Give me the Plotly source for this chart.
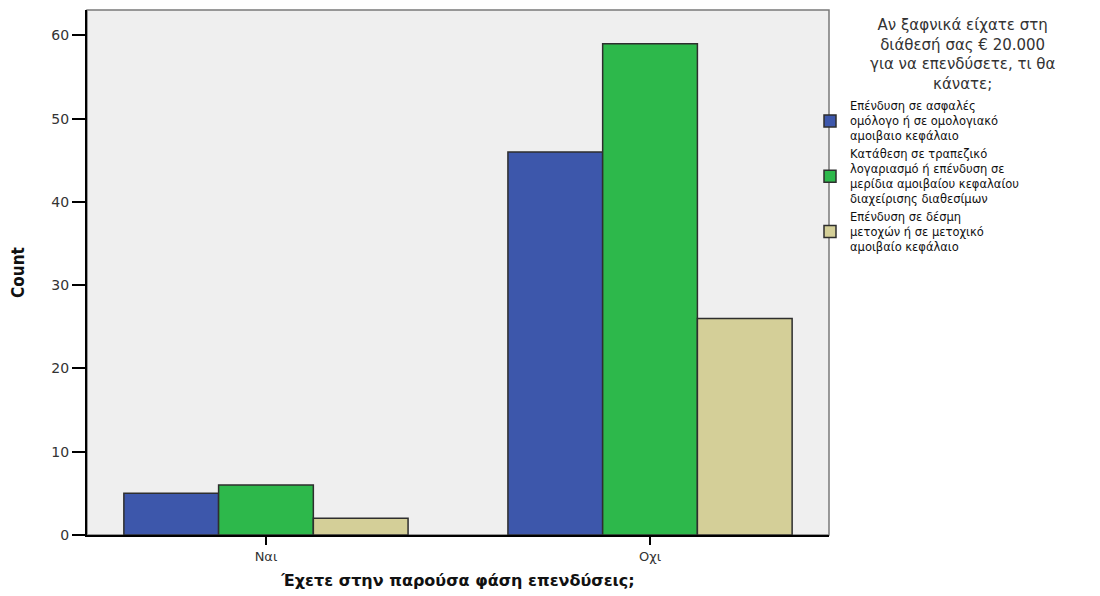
import plotly.graph_objects as go

categories = ["Ναι", "Οχι"]
series_names = [
    "Επένδυση σε ασφαλές<br>ομόλογο ή σε ομολογιακό<br>αμοιβαιο κεφάλαιο",
    "Κατάθεση σε τραπεζικό<br>λογαριασμό ή επένδυση σε<br>μερίδια αμοιβαίου κεφαλαίου<br>διαχείρισης διαθεσίμων",
    "Επένδυση σε δέσμη<br>μετοχών ή σε μετοχικό<br>αμοιβαίο κεφάλαιο",
]
legend_title = "Αν ξαφνικά είχατε στη<br>διάθεσή σας € 20.000<br>για να επενδύσετε, τι θα<br>κάνατε;"
bonds = [5, 46]
deposits = [6, 59]
stocks = [2, 26]
colors = ["#3D57AB", "#2DB84B", "#D4CF98"]
y_ticks = [0, 10, 20, 30, 40, 50, 60]

OFF = 8  # default page body margin
W, H = 1100 - OFF, 596 - OFF
L, T = 87 - OFF, 10 - OFF
R = W - (829 - OFF)
B = H - (535 - OFF)
PW, PH = W - L - R, H - T - B

fig = go.Figure()
for name, vals, col in zip(series_names, [bonds, deposits, stocks], colors):
    fig.add_trace(go.Bar(
        x=categories, y=vals, name=name,
        marker=dict(color=col, line=dict(color="#2e2e2e", width=1.5)),
    ))

fig.update_layout(
    width=W, height=H,
    margin=dict(l=L, r=R, t=T, b=B, autoexpand=False),
    paper_bgcolor="white",
    plot_bgcolor="#EFEFEF",
    barmode="group",
    bargap=0.26,
    bargroupgap=0,
    font=dict(family="DejaVu Sans, Arial, sans-serif", size=13, color="#222"),
    xaxis=dict(
        range=[-0.466, 1.466],
        showline=True, linecolor="black", linewidth=2,
        ticks="outside", ticklen=8, tickwidth=1.5, tickcolor="black",
        tickfont=dict(size=13, color="#333"),
        showgrid=False, zeroline=False,
        title=dict(text="Έχετε στην παρούσα φάση επενδύσεις;", standoff=12,
                   font=dict(family="DejaVu Sans", size=16, color="#111", weight="bold")),
    ),
    yaxis=dict(
        range=[0, 63.06],
        tickvals=y_ticks,
        showline=True, linecolor="black", linewidth=2,
        ticks="outside", ticklen=13, tickwidth=1.5, tickcolor="black",
        tickfont=dict(size=14, color="#333"),
        showgrid=False, zeroline=False,
        title=dict(text="Count", standoff=24,
                   font=dict(family="Liberation Sans Narrow, DejaVu Sans Condensed, Arial Narrow, sans-serif",
                             size=17, color="#111", weight="bold")),
    ),
    legend=dict(
        xref="container", yref="container",
        x=(810 - OFF) / W, xanchor="left",
        y=1 - (92 - OFF) / H, yanchor="top",
        bgcolor="rgba(0,0,0,0)",
        font=dict(family="DejaVu Sans", size=11.5, color="#111"),
        itemwidth=30,
        tracegroupgap=0,
    ),
    annotations=[
        dict(text="Bar Chart", xref="paper", yref="paper",
             x=(550 - OFF - L) / PW, y=1 + 14 / PH, xanchor="center", yanchor="bottom",
             showarrow=False, font=dict(size=20, color="#666", family="DejaVu Sans")),
        dict(text=legend_title, xref="paper", yref="paper",
             x=(962 - OFF - L) / PW, y=1 - 4 / PH, xanchor="center", yanchor="top",
             align="center", showarrow=False,
             font=dict(size=15, color="#333", family="DejaVu Sans")),
    ],
    shapes=[dict(type="rect", xref="paper", yref="paper", x0=0, x1=1, y0=0, y1=1,
                 line=dict(color="#7a7a7a", width=1.5), layer="below")],
)

fig.write_html("out.html")
